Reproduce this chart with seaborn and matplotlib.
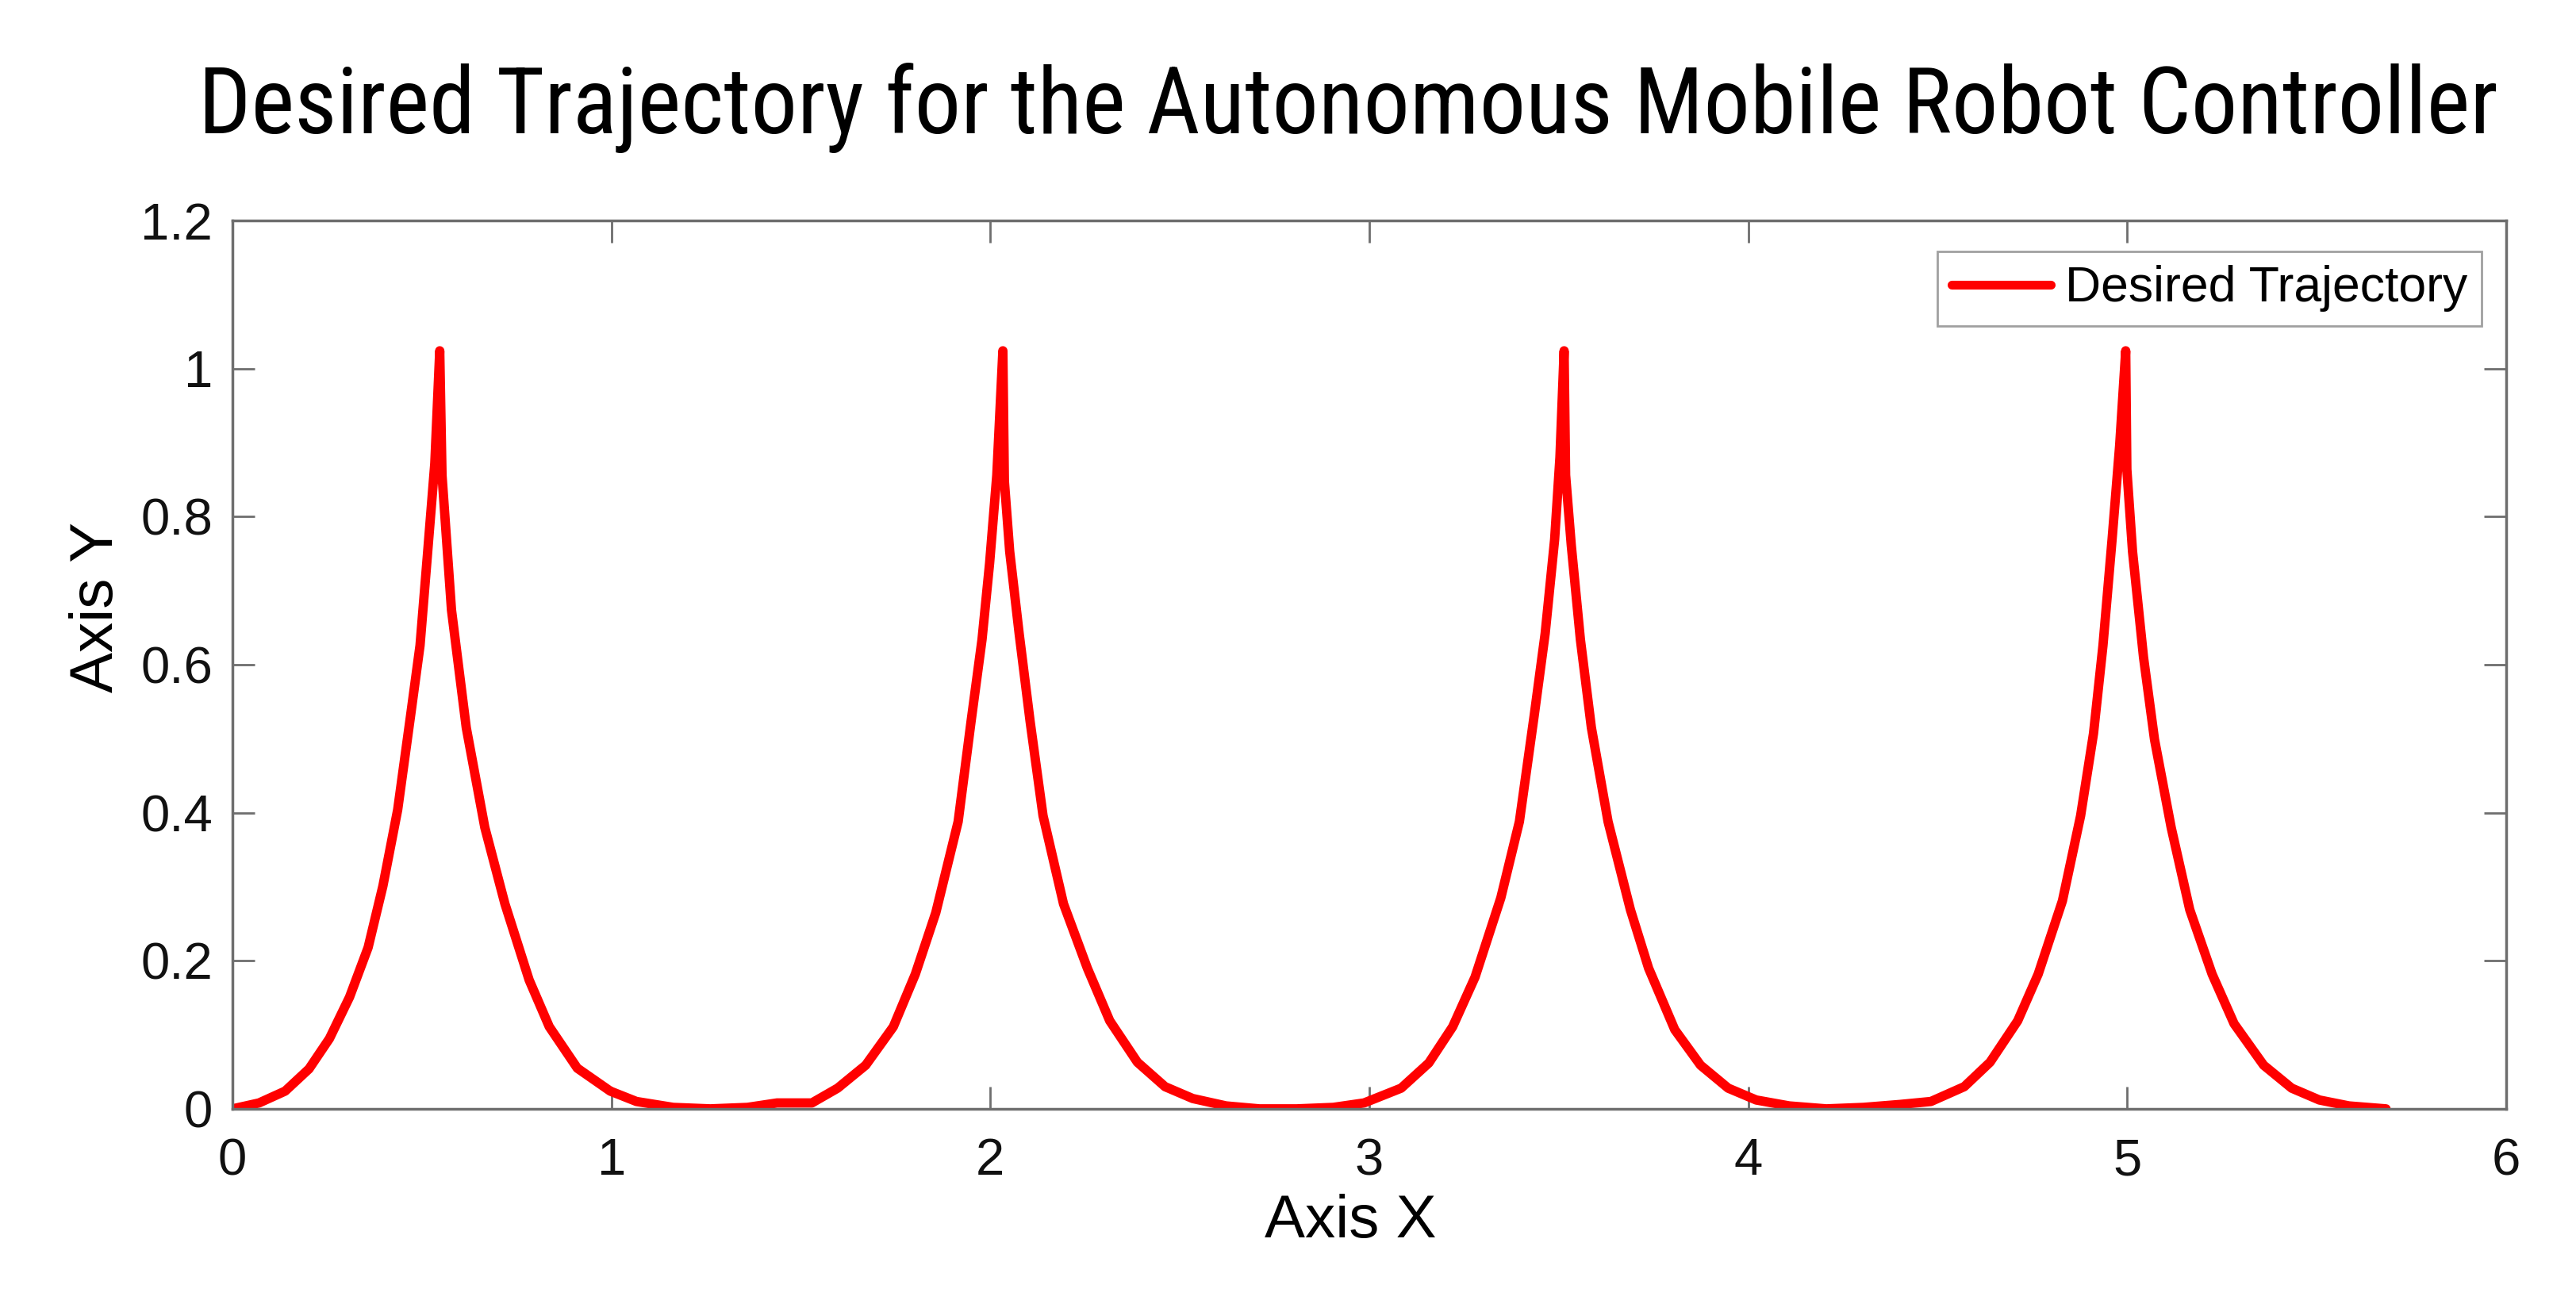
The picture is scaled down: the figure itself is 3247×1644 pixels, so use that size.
import numpy as np
import pandas as pd
import matplotlib
matplotlib.use("Agg")
import matplotlib.pyplot as plt
from matplotlib import font_manager
from matplotlib.patheffects import AbstractPathEffect
from matplotlib.transforms import Affine2D
import seaborn as sns

# points, one lobe at a time
lobe1_x = [0.0, 0.070, 0.139, 0.202, 0.256, 0.309, 0.358, 0.397, 0.436, 0.470, 0.495, 0.514, 0.534, 0.547,
           0.553, 0.578, 0.617, 0.666, 0.719, 0.783, 0.836, 0.910, 0.997, 1.066, 1.163, 1.261, 1.359, 1.437]
lobe1_y = [0.0, 0.008, 0.024, 0.054, 0.095, 0.151, 0.218, 0.301, 0.404, 0.531, 0.626, 0.745, 0.872, 1.024,
           0.856, 0.674, 0.515, 0.380, 0.277, 0.174, 0.111, 0.055, 0.024, 0.010, 0.002, 0.0, 0.002, 0.008]

lobe2_x = [1.529, 1.597, 1.671, 1.744, 1.802, 1.856, 1.915, 1.949, 1.978, 1.998, 2.017, 2.033,
           2.037, 2.051, 2.076, 2.105, 2.139, 2.193, 2.256, 2.315, 2.388, 2.461, 2.534, 2.622, 2.710, 2.808, 2.905]
lobe2_y = [0.008, 0.028, 0.059, 0.111, 0.182, 0.265, 0.388, 0.523, 0.634, 0.737, 0.856, 1.024,
           0.848, 0.753, 0.642, 0.523, 0.396, 0.277, 0.190, 0.119, 0.063, 0.030, 0.014, 0.004, 0.0, 0.0, 0.002]

lobe3_x = [2.986, 3.084, 3.157, 3.220, 3.279, 3.347, 3.396, 3.435, 3.464, 3.489, 3.503, 3.514,
           3.518, 3.533, 3.557, 3.586, 3.630, 3.689, 3.737, 3.806, 3.874, 3.947, 4.021, 4.108, 4.206, 4.304, 4.401]
lobe3_y = [0.008, 0.028, 0.062, 0.111, 0.178, 0.285, 0.388, 0.531, 0.642, 0.769, 0.880, 1.024,
           0.856, 0.761, 0.634, 0.515, 0.388, 0.269, 0.190, 0.107, 0.059, 0.028, 0.012, 0.004, 0.0, 0.002, 0.006]

lobe4_x = [4.482, 4.570, 4.638, 4.711, 4.765, 4.829, 4.877, 4.911, 4.936, 4.960, 4.980, 4.996,
           4.999, 5.014, 5.043, 5.072, 5.116, 5.165, 5.224, 5.282, 5.360, 5.434, 5.507, 5.585, 5.683]
lobe4_y = [0.010, 0.030, 0.063, 0.119, 0.182, 0.281, 0.396, 0.507, 0.626, 0.769, 0.896, 1.024,
           0.864, 0.753, 0.610, 0.499, 0.380, 0.269, 0.182, 0.115, 0.059, 0.028, 0.012, 0.004, 0.0]

x_ticks = [0, 1, 2, 3, 4, 5, 6]
y_ticks = [0, 0.2, 0.4, 0.6, 0.8, 1.0, 1.2]
y_tick_labels = ["0", "0.2", "0.4", "0.6", "0.8", "1", "1.2"]

series_name = "Desired Trajectory"
title = "Desired Trajectory for the Autonomous Mobile Robot Controller"


class Squeeze(AbstractPathEffect):
    """Draw text glyphs narrower around a fixed display x (condensed look)."""

    def __init__(self, cx, sx):
        super().__init__()
        self.cx = cx
        self.sx = sx

    def draw_path(self, renderer, gc, tpath, affine, rgbFace=None):
        squeeze = Affine2D().translate(-self.cx, 0).scale(self.sx, 1).translate(self.cx, 0)
        renderer.draw_path(gc, tpath, affine + squeeze, rgbFace)


def find_condensed_font():
    """Return the file of an installed regular condensed sans face, if any."""
    wanted = ["liberation sans narrow", "roboto condensed", "open sans condensed",
              "dejavu sans condensed", "noto sans condensed", "dejavu sans"]
    found = {}
    for f in font_manager.fontManager.ttflist:
        low = (f.name + " " + f.fname).lower()
        condensed = ("narrow" in low or "condensed" in low or f.stretch in ("condensed", "semi-condensed"))
        if not condensed or f.style != "normal":
            continue
        if "bold" in low or "light" in low or "oblique" in low or "italic" in low or "mono" in low \
                or "serif" in low.replace("sans", "") or "thin" in low or "medium" in low or "black" in low:
            continue
        for key in wanted:
            if key.split()[0] in low:
                found.setdefault(key, f.fname)
    for key in wanted:
        if key in found:
            return found[key]
    return None


def plot_desired_trajectory():
    sns.set_theme(style="white")
    plt.rcParams["font.family"] = ["Liberation Sans", "DejaVu Sans"]

    df = pd.DataFrame({
        "x": lobe1_x + lobe2_x + lobe3_x + lobe4_x,
        "y": lobe1_y + lobe2_y + lobe3_y + lobe4_y,
    })
    df["series"] = series_name

    W, H = 3248, 1644
    fig = plt.figure(figsize=(W / 100, H / 100), dpi=100)
    ax = fig.add_axes([293 / W, 1 - 1398 / H, (3159 - 293) / W, (1398 - 278) / H])

    sns.lineplot(
        data=df, x="x", y="y", hue="series", palette=["#ff0000"],
        sort=False, estimator=None, linewidth=8.5, ax=ax,
    )
    for line in ax.get_lines():
        line.set_solid_joinstyle("round")
        line.set_solid_capstyle("round")

    ax.set_xlim(0, 6)
    ax.set_ylim(0, 1.2)
    ax.set_xticks(x_ticks)
    ax.set_yticks(y_ticks)
    ax.set_yticklabels(y_tick_labels)

    spine_color = "#6e6e6e"
    for sp in ax.spines.values():
        sp.set_visible(True)
        sp.set_color(spine_color)
        sp.set_linewidth(2.5)
    ax.tick_params(axis="both", which="both", direction="in", length=20, width=2,
                   color=spine_color, labelsize=47, labelcolor="#111111",
                   top=True, right=True, bottom=True, left=True)
    ax.tick_params(axis="x", pad=26)
    ax.tick_params(axis="y", pad=18)

    ax.set_xlabel("Axis X", fontsize=55, labelpad=8, color="black")
    ax.set_ylabel("Axis Y", fontsize=55, labelpad=14, color="black")
    ax.xaxis.label.set_x((1702 - 293) / (3159 - 293))
    ax.yaxis.label.set_y((1398 - 765) / (1398 - 278))

    leg = ax.legend(
        loc="upper right", bbox_to_anchor=(0.9892, 0.9652), borderaxespad=0,
        fontsize=45, frameon=True, fancybox=False, handlelength=2.0,
        handletextpad=0.3, borderpad=0.28,
    )
    leg.get_frame().set_edgecolor("#888888")
    leg.get_frame().set_linewidth(2)
    for h in leg.get_lines():
        h.set_linewidth(8)
    for t in leg.get_texts():
        t.set_color("black")

    # title: condensed face, about 2900 px wide, centred a little left of the axes
    cx = 1699
    target_w = 2900
    narrow = find_condensed_font()
    if narrow is not None:
        t = fig.text(cx / W, 1 - 168 / H, title, ha="center", va="baseline",
                     fontsize=87, color="black",
                     fontproperties=font_manager.FontProperties(fname=narrow, size=87))
        fig.canvas.draw()
        w = t.get_window_extent().width
        t.set_fontsize(87 * target_w / w)
    else:
        t = fig.text(cx / W, 1 - 168 / H, title, ha="center", va="baseline",
                     fontsize=87, color="black")
        fig.canvas.draw()
        w = t.get_window_extent().width
        size = 87 * min(1.0, 3080 / w)
        t.set_fontsize(size)
        fig.canvas.draw()
        w = t.get_window_extent().width
        t.set_path_effects([Squeeze(cx, target_w / w)])

    fig.savefig("out.png", dpi=100, facecolor="white")


if __name__ == "__main__":
    plot_desired_trajectory()
